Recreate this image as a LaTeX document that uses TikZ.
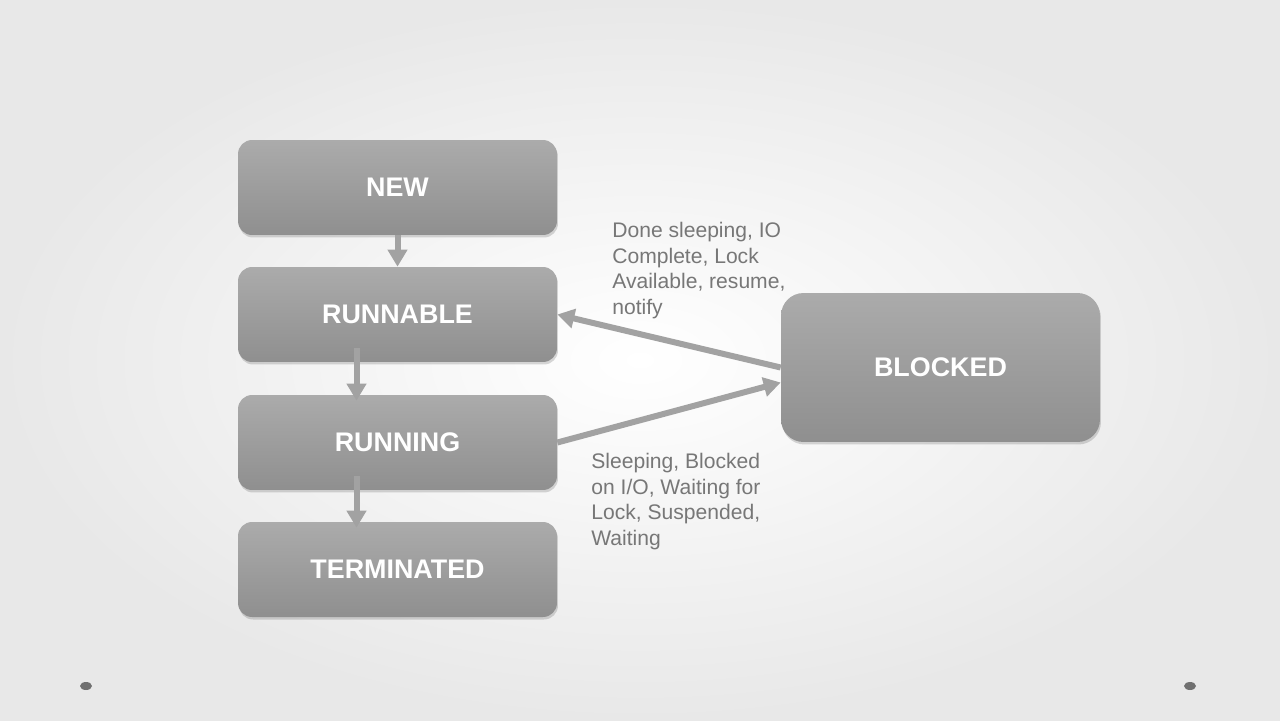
\documentclass[tikz,border=0pt]{standalone}
\usepackage{fontspec}
\setmainfont{Liberation Sans}
\usetikzlibrary{arrows.meta,shadows}
\definecolor{boxtop}{HTML}{ABABAB}
\definecolor{boxbot}{HTML}{8F8F8F}
\definecolor{linkgray}{HTML}{A2A2A2}
\definecolor{notegray}{HTML}{777777}
\definecolor{dotgray}{HTML}{707070}
\begin{document}
\begin{tikzpicture}[x=0.02cm,y=-0.02cm]
\tikzstyle{statebox}=[rounded corners=0.28cm, minimum width=6.38cm, minimum height=1.9cm,
  top color=boxtop, bottom color=boxbot, draw=none, text=white,
  font=\fontsize{15.3}{18}\selectfont\bfseries,
  drop shadow={shadow xshift=0.02cm, shadow yshift=-0.05cm, opacity=0.22, fill=black!70}]
\tikzstyle{flow}=[draw=linkgray, line width=0.12cm, -{Triangle[width=0.38cm,length=0.34cm]}]
\tikzstyle{note}=[inner sep=0pt, anchor=north west, align=left, text=notegray,
  font=\fontsize{12}{14.6}\selectfont]
\shade[inner color=white, outer color=black!9] (0,0) rectangle (1280,720);
\useasboundingbox (0,0) rectangle (1280,720);
\node [statebox] (new) at (397.5,187.5) {NEW};
\node [statebox] (runnable) at (397.5,314.5) {RUNNABLE};
\node [statebox] (running) at (397.5,442.5) {RUNNING};
\node [statebox] (terminated) at (397.5,569.5) {TERMINATED};
\node [statebox, minimum height=2.98cm, rounded corners=0.45cm] (blocked) at (940.5,367.5) {BLOCKED};
\draw [flow] (new.south) -- (runnable.north);
\draw [flow] ([xshift=-0.82cm,yshift=0.28cm]runnable.south) -- ([xshift=-0.82cm,yshift=-0.12cm]running.north);
\draw [flow] ([xshift=-0.82cm,yshift=0.28cm]running.south) -- ([xshift=-0.82cm,yshift=-0.12cm]terminated.north);
\draw [flow] (blocked.west) -- (runnable.east);
\draw [flow] (running.east) -- ([yshift=-0.3cm]blocked.west);
\node [note] (wakeup) at (612,222) {Done sleeping, IO\\Complete, Lock\\Available, resume,\\notify};
\node [note] (sleep) at (591,453) {Sleeping, Blocked\\on I/O, Waiting for\\Lock, Suspended,\\Waiting};
\fill [dotgray] (86,686) ellipse [x radius=0.12cm, y radius=0.08cm];
\fill [dotgray] (1190,686) ellipse [x radius=0.12cm, y radius=0.08cm];
\end{tikzpicture}
\end{document}
